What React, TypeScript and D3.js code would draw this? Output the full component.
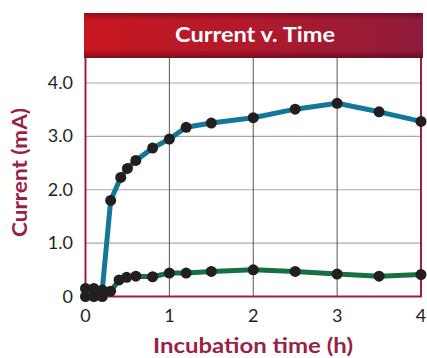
import React from "react";
import * as d3 from "d3";

const blueTime = [0, 0.1, 0.2, 0.3, 0.42, 0.5, 0.6, 0.8, 1.0, 1.2, 1.5, 2.0, 2.5, 3.0, 3.5, 4.0];
const blueCurrent = [0.15, 0.15, 0.12, 1.8, 2.23, 2.4, 2.55, 2.78, 2.95, 3.17, 3.25, 3.35, 3.51, 3.62, 3.46, 3.28];
const greenTime = [0, 0.1, 0.2, 0.3, 0.4, 0.49, 0.6, 0.8, 1.0, 1.2, 1.5, 2.0, 2.5, 3.0, 3.5, 4.0];
const greenCurrent = [0, 0, 0, 0.1, 0.31, 0.36, 0.38, 0.37, 0.44, 0.44, 0.47, 0.5, 0.47, 0.42, 0.38, 0.41];
const xTicks = [0, 1, 2, 3, 4];
const yTicks = [0, 1, 2, 3, 4];
const yTickLabels = ["0", "1.0", "2.0", "3.0", "4.0"];
const title = "Current v. Time";
const xTitle = "Incubation time (h)";
const yTitle = "Current (mA)";

const W = 427, H = 358;
const left = 85.5, right = 421, bottom = 296.5, top4 = 83;
const bannerTop = 13, bannerBottom = 58;
const maroon = "#9a1f45";
const font = "Lato, 'Open Sans', sans-serif";

export default function App() {
  const x = d3.scaleLinear().domain([0, 4]).range([left, right]);
  const y = d3.scaleLinear().domain([0, 4]).range([bottom, top4]);
  const blue = blueTime.map((t, i) => [x(t), y(blueCurrent[i])] as [number, number]);
  const green = greenTime.map((t, i) => [x(t), y(greenCurrent[i])] as [number, number]);
  const lg = d3.line<[number, number]>().x(d => d[0]).y(d => d[1]);
  return (
    <svg width={W} height={H} style={{ position: "absolute", left: 0, top: 0, background: "#fff" }}>
      <defs>
        <linearGradient id="bannerGrad" x1="0" x2="1" y1="0" y2="0">
          <stop offset="0" stopColor="#c8161f" />
          <stop offset="0.5" stopColor="#b01a2c" />
          <stop offset="1" stopColor="#8e1b3c" />
        </linearGradient>
        <linearGradient id="bannerShade" x1="0" x2="0" y1="0" y2="1">
          <stop offset="0" stopColor="#4a0010" stopOpacity="0.45" />
          <stop offset="0.15" stopColor="#4a0010" stopOpacity="0" />
          <stop offset="0.82" stopColor="#4a0010" stopOpacity="0" />
          <stop offset="1" stopColor="#4a0010" stopOpacity="0.55" />
        </linearGradient>
      </defs>
      {yTicks.filter(t => t > 0).map(t => (
        <line key={"h" + t} x1={left} x2={right} y1={y(t)} y2={y(t)} stroke="#a7a7a7" strokeWidth={1.2} />
      ))}
      {xTicks.filter(t => t > 0 && t < 4).map(t => (
        <line key={"v" + t} x1={x(t)} x2={x(t)} y1={bannerBottom} y2={bottom} stroke="#555" strokeWidth={1} />
      ))}
      <line x1={left} x2={left} y1={bannerBottom} y2={bottom} stroke={maroon} strokeWidth={2} />
      <line x1={right} x2={right} y1={bannerBottom} y2={bottom} stroke={maroon} strokeWidth={2} />
      <line x1={left - 1} x2={right + 1} y1={bottom} y2={bottom} stroke={maroon} strokeWidth={2} />
      <rect x={84} y={bannerTop} width={339} height={bannerBottom - bannerTop} fill="url(#bannerGrad)" />
      <rect x={84} y={bannerTop} width={339} height={bannerBottom - bannerTop} fill="url(#bannerShade)" />
      <text x={255} y={42} textAnchor="middle" fill="#fff" fontFamily={font} fontWeight={700} fontSize={21}
        textLength={160} lengthAdjust="spacingAndGlyphs">{title}</text>
      <path d={lg(green) || ""} fill="none" stroke="#17703f" strokeWidth={5} strokeLinejoin="round" />
      <path d={lg(blue) || ""} fill="none" stroke="#137898" strokeWidth={5} strokeLinejoin="round" />
      {green.map((p, i) => <circle key={"g" + i} cx={p[0]} cy={p[1]} r={5.5} fill="#231f20" />)}
      {blue.map((p, i) => <circle key={"b" + i} cx={p[0]} cy={p[1]} r={5.5} fill="#231f20" />)}
      {yTicks.map((t, i) => (
        <text key={"yl" + t} x={73} y={y(t) + 6} textAnchor="end" fill="#231f20" fontFamily={font} fontSize={18}>{yTickLabels[i]}</text>
      ))}
      {xTicks.map(t => (
        <text key={"xl" + t} x={x(t)} y={322} textAnchor="middle" fill="#231f20" fontFamily={font} fontSize={18}>{t}</text>
      ))}
      <text x={253} y={353} textAnchor="middle" fill={maroon} fontFamily={font} fontWeight={700} fontSize={20}
        textLength={200} lengthAdjust="spacingAndGlyphs">{xTitle}</text>
      <text transform="translate(27,172.5) rotate(-90)" textAnchor="middle" fill={maroon} fontFamily={font} fontWeight={700} fontSize={21}
        textLength={129} lengthAdjust="spacingAndGlyphs">{yTitle}</text>
    </svg>
  );
}
